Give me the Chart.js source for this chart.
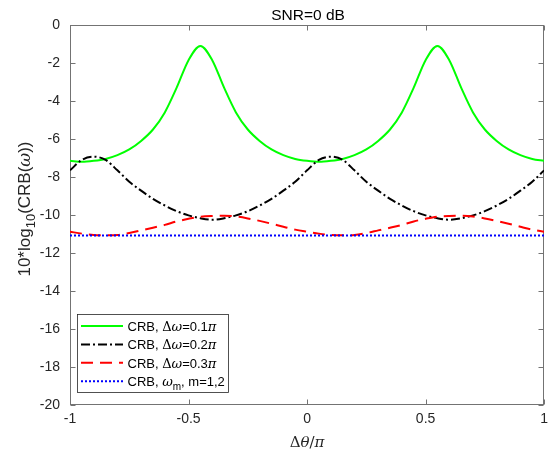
<!DOCTYPE html>
<html>
<head>
<meta charset="utf-8">
<script src="https://cdn.jsdelivr.net/npm/chart.js@4.4.1/dist/chart.umd.min.js"></script>
<style>
  html, body { margin: 0; padding: 0; background: #fff; }
  #wrap { width: 554px; height: 456px; }
</style>
</head>
<body>
<div id="wrap"><canvas id="crbChart" width="554" height="456"></canvas></div>
<script>
// --- dados ---
const xValues = [-1, -0.95, -0.9, -0.85, -0.8, -0.75, -0.7, -0.65, -0.6, -0.55, -0.5,
  -0.45, -0.4, -0.35, -0.3, -0.25, -0.2, -0.15, -0.1, -0.05, 0,
  0.05, 0.1, 0.15, 0.2, 0.25, 0.3, 0.35, 0.4, 0.45, 0.5,
  0.55, 0.6, 0.65, 0.7, 0.75, 0.8, 0.85, 0.9, 0.95, 1];

const crbDw01 = [-7.15, -7.2, -7.15, -7.05, -6.85, -6.55, -6.1, -5.5, -4.6, -3.3, -1.85,
  -1.1, -1.85, -3.3, -4.6, -5.5, -6.1, -6.55, -6.85, -7.05, -7.15,
  -7.2, -7.15, -7.05, -6.85, -6.55, -6.1, -5.5, -4.6, -3.3, -1.85,
  -1.1, -1.85, -3.3, -4.6, -5.5, -6.1, -6.55, -6.85, -7.05, -7.15];

const crbDw02 = [-7.65, -7.1, -6.93, -7.1, -7.65, -8.25, -8.72, -9.15, -9.5, -9.8, -10.02,
  -10.17, -10.25, -10.17, -10.02, -9.8, -9.5, -9.15, -8.72, -8.25, -7.65,
  -7.1, -6.93, -7.1, -7.65, -8.25, -8.72, -9.15, -9.5, -9.8, -10.02,
  -10.17, -10.25, -10.17, -10.02, -9.8, -9.5, -9.15, -8.72, -8.25, -7.65];

const crbDw03 = [-10.88, -10.98, -11.05, -11.07, -11.05, -10.95, -10.81, -10.67, -10.52, -10.34, -10.2,
  -10.09, -10.05, -10.04, -10.08, -10.18, -10.31, -10.46, -10.62, -10.77, -10.88,
  -10.98, -11.05, -11.07, -11.05, -10.95, -10.81, -10.67, -10.52, -10.34, -10.2,
  -10.09, -10.05, -10.04, -10.08, -10.18, -10.31, -10.46, -10.62, -10.77, -10.88];

const crbOmegaM = [-11.08, -11.08, -11.08, -11.08, -11.08, -11.08, -11.08, -11.08, -11.08, -11.08, -11.08,
  -11.08, -11.08, -11.08, -11.08, -11.08, -11.08, -11.08, -11.08, -11.08, -11.08,
  -11.08, -11.08, -11.08, -11.08, -11.08, -11.08, -11.08, -11.08, -11.08, -11.08,
  -11.08, -11.08, -11.08, -11.08, -11.08, -11.08, -11.08, -11.08, -11.08, -11.08];

const xTicks = [-1, -0.5, 0, 0.5, 1];
const yTicks = [-20, -18, -16, -14, -12, -10, -8, -6, -4, -2, 0];

// partes do texto: [texto, tipo] -> n normal, g grego itálico, u serifa, s subscrito
const legendTexts = [
  [['CRB, ', 'n'], ['Δ', 'u'], ['ω', 'g'], ['=0.1', 'n'], ['π', 'g']],
  [['CRB, ', 'n'], ['Δ', 'u'], ['ω', 'g'], ['=0.2', 'n'], ['π', 'g']],
  [['CRB, ', 'n'], ['Δ', 'u'], ['ω', 'g'], ['=0.3', 'n'], ['π', 'g']],
  [['CRB, ', 'n'], ['ω', 'g'], ['m', 's'], [', m=1,2', 'n']]
];
const yTitle = [['10*log', 'n'], ['10', 's'], ['(CRB(', 'n'], ['ω', 'g'], ['))', 'n']];
const xTitle = [['Δ', 'u'], ['θ', 'g'], ['/', 'u'], ['π', 'g']];

const SANS = '"Liberation Sans", Arial, Helvetica, sans-serif';
const SERIF = '"DejaVu Serif", "Liberation Serif", serif';

function partFont(kind, size) {
  if (kind === 'g') return 'italic ' + size + 'px ' + SERIF;
  if (kind === 'u') return size + 'px ' + SERIF;
  if (kind === 's') return Math.round(size * 0.78) + 'px ' + SANS;
  return size + 'px ' + SANS;
}

function drawRich(ctx, parts, x, y, size, centered) {
  let total = 0;
  parts.forEach(function (p) {
    ctx.font = partFont(p[1], size);
    total += ctx.measureText(p[0]).width;
  });
  let cx = centered ? x - total / 2 : x;
  ctx.textAlign = 'left';
  ctx.textBaseline = 'alphabetic';
  parts.forEach(function (p) {
    ctx.font = partFont(p[1], size);
    const dy = p[1] === 's' ? size * 0.3 : 0;
    ctx.fillText(p[0], cx, y + dy);
    cx += ctx.measureText(p[0]).width;
  });
}

function buildPoints(values) {
  return values.map(function (v, i) { return { x: xValues[i], y: v }; });
}

// eixos no estilo MATLAB: caixa, ticks para dentro, títulos e legenda
const matlabAxes = {
  id: 'matlabAxes',
  beforeDatasetsDraw: function (chart) {
    const ctx = chart.ctx;
    const a = chart.chartArea;
    const xs = chart.scales.x, ys = chart.scales.y;
    const L = Math.round(a.left) + 0.5, R = Math.round(a.right) - 0.5;
    const T = Math.round(a.top) + 0.5, B = Math.round(a.bottom) - 0.5;
    ctx.save();
    ctx.strokeStyle = '#737373';
    ctx.lineWidth = 1;
    ctx.strokeRect(L, T, R - L, B - T);
    ctx.beginPath();
    xTicks.forEach(function (v) {
      const px = Math.round(xs.getPixelForValue(v)) + 0.5;
      ctx.moveTo(px, B); ctx.lineTo(px, B - 5);
      ctx.moveTo(px, T); ctx.lineTo(px, T + 5);
    });
    yTicks.forEach(function (v) {
      const py = Math.round(ys.getPixelForValue(v)) + 0.5;
      ctx.moveTo(L, py); ctx.lineTo(L + 5, py);
      ctx.moveTo(R, py); ctx.lineTo(R - 5, py);
    });
    ctx.stroke();
    ctx.restore();
  },
  afterDraw: function (chart) {
    const ctx = chart.ctx;
    const a = chart.chartArea;
    const midX = (a.left + a.right) / 2;
    const midY = (a.top + a.bottom) / 2;
    ctx.save();
    ctx.fillStyle = '#000';
    ctx.font = '15.5px ' + SANS;
    ctx.textAlign = 'center';
    ctx.textBaseline = 'alphabetic';
    ctx.fillText('SNR=0 dB', midX + 1, 20);

    ctx.fillStyle = '#262626';
    drawRich(ctx, xTitle, midX, 447, 15, true);

    ctx.save();
    ctx.translate(30, midY - 6);
    ctx.rotate(-Math.PI / 2);
    drawRich(ctx, yTitle, 0, 0, 17, true);
    ctx.restore();

    // legenda
    const bx = 77.5, by = 314.5, bw = 151, bh = 78;
    ctx.fillStyle = '#fff';
    ctx.fillRect(bx, by, bw, bh);
    ctx.strokeStyle = '#262626';
    ctx.lineWidth = 0.8;
    ctx.strokeRect(bx, by, bw, bh);
    chart.data.datasets.forEach(function (ds, i) {
      const rowY = 326 + i * 18.4;
      ctx.save();
      ctx.strokeStyle = ds.borderColor;
      ctx.lineWidth = ds.borderWidth;
      ctx.setLineDash(ds.borderDash || []);
      ctx.beginPath();
      ctx.moveTo(81, rowY);
      ctx.lineTo(123, rowY);
      ctx.stroke();
      ctx.restore();
      ctx.fillStyle = '#000';
      drawRich(ctx, legendTexts[i], 127.5, rowY + 5, 13, false);
    });
    ctx.restore();
  }
};

const ctx = document.getElementById('crbChart');

new Chart(ctx, {
  type: 'line',
  data: {
    datasets: [
      {
        label: 'CRB, Δω=0.1π',
        data: buildPoints(crbDw01),
        borderColor: '#00ff00',
        borderWidth: 2,
        order: 4
      },
      {
        label: 'CRB, Δω=0.2π',
        data: buildPoints(crbDw02),
        borderColor: '#000000',
        borderWidth: 2,
        borderDash: [9, 3, 2, 3],
        order: 3
      },
      {
        label: 'CRB, Δω=0.3π',
        data: buildPoints(crbDw03),
        borderColor: '#ff0000',
        borderWidth: 2,
        borderDash: [12, 7],
        order: 2
      },
      {
        label: 'CRB, ωm, m=1,2',
        data: buildPoints(crbOmegaM),
        borderColor: '#0000ff',
        borderWidth: 2,
        borderDash: [2, 2],
        order: 1
      }
    ]
  },
  options: {
    responsive: false,
    animation: false,
    devicePixelRatio: 1,
    layout: { padding: { top: 25, right: 6, left: 0, bottom: 0 } },
    elements: {
      point: { radius: 0 },
      line: { cubicInterpolationMode: 'monotone', fill: false }
    },
    plugins: {
      legend: { display: false },
      title: { display: false },
      tooltip: { enabled: false }
    },
    scales: {
      x: {
        type: 'linear',
        min: -1,
        max: 1,
        afterBuildTicks: function (s) { s.ticks = xTicks.map(function (v) { return { value: v }; }); },
        afterFit: function (s) { s.height = 51; },
        grid: { display: false, drawTicks: false },
        border: { display: false },
        ticks: {
          padding: 6,
          color: '#262626',
          font: { family: SANS, size: 14 },
          maxRotation: 0,
          callback: function (v) { return String(v); }
        }
      },
      y: {
        type: 'linear',
        min: -20,
        max: 0,
        afterBuildTicks: function (s) { s.ticks = yTicks.map(function (v) { return { value: v }; }); },
        afterFit: function (s) { s.width = 70; },
        grid: { display: false, drawTicks: false },
        border: { display: false },
        ticks: {
          padding: 10,
          color: '#262626',
          font: { family: SANS, size: 14 },
          callback: function (v) { return String(v); }
        }
      }
    }
  },
  plugins: [matlabAxes]
});
</script>
</body>
</html>
